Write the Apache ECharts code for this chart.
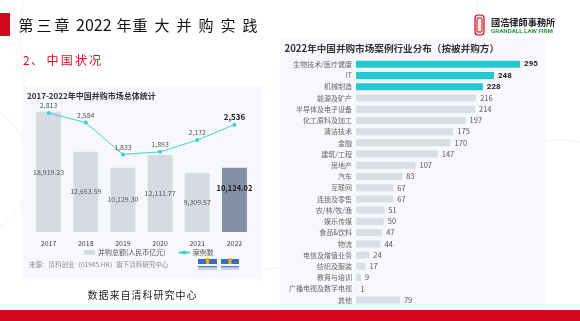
<!DOCTYPE html>
<html><head><meta charset="utf-8">
<script src="https://cdn.jsdelivr.net/npm/echarts@6/dist/echarts.min.js"></script>
<style>html,body{margin:0;padding:0;background:#fff}#c{width:580px;height:321px}</style>
</head><body><div id="c"></div>
<script>
// ---- data ----
const years = ['2017','2018','2019','2020','2021','2022'];
const dealAmount = [18919.23, 12653.59, 10129.30, 12111.77, 9309.57, 10124.02];
const dealCount = [2813, 2584, 1833, 1893, 2172, 2536];
const industries = ['生物技术/医疗健康','IT','机械制造','能源及矿产','半导体及电子设备','化工原料及加工','清洁技术','金融','建筑/工程','房地产','汽车','互联网','连锁及零售','农/林/牧/渔','娱乐传媒','食品&饮料','物流','电信及增值业务','纺织及服装','教育与培训','广播电视及数字电视','其他'];
const industryCases = [295,248,228,216,214,197,175,170,147,107,83,67,67,51,50,47,44,24,17,9,1,79];
const amountName = '并购总额(人民币亿元)';
const countName = '案例数';

const FF = '"Noto Sans CJK SC","Noto Sans",sans-serif';
const chart = echarts.init(document.getElementById('c'), null, {renderer:'canvas'});

function txt(text, x, y, o) {
  o = o || {};
  return {type:'text', z: o.z || 20, style:{text:text, x:x, y:y,
    fill:o.fill||'#222', fontSize:o.size||10, fontFamily:o.family||FF, fontWeight:o.weight||'normal',
    align:o.align||'left', textAlign:o.align||'left', verticalAlign:'middle', textVerticalAlign:'middle'}};
}
function spaced(chars, centers, y, o) {
  return chars.map((c,i)=>txt(c, centers[i], y, Object.assign({align:'center'}, o)));
}
const fmt2 = v => v.toLocaleString('en-US',{minimumFractionDigits:2, maximumFractionDigits:2});
const fmt0 = v => v.toLocaleString('en-US');

const graphics = [];
// faint decorative arcs
graphics.push({type:'circle', z:-20, shape:{cx:250,cy:40,r:230}, style:{fill:'none',stroke:'#f1f1f1',lineWidth:1}});
graphics.push({type:'circle', z:-20, shape:{cx:-40,cy:170,r:70}, style:{fill:'none',stroke:'#f0f0f0',lineWidth:1}});
graphics.push({type:'circle', z:-20, shape:{cx:560,cy:230,r:90}, style:{fill:'none',stroke:'#f2f2f2',lineWidth:1}});
// panels
graphics.push({type:'rect', z:-10, shape:{x:22,y:86,width:240,height:193}, style:{fill:'#f7f8fb'}});
graphics.push({type:'rect', z:-10, shape:{x:280,y:38,width:265,height:272}, style:{fill:'#f7f8fb'}});
// red marker + bottom band
graphics.push({type:'rect', z:5, shape:{x:0,y:13,width:10,height:23}, style:{fill:'#d2091c'}});
graphics.push({type:'rect', z:5, shape:{x:0,y:310,width:580,height:11}, style:{fill:'#d2091c'}});
// main title
graphics.push(...spaced(['第','三','章'], [26,44,62], 25, {size:15, fill:'#111'}));
graphics.push(txt('2022', 76, 25, {size:16, fill:'#111'}));
graphics.push(txt('年', 124, 25, {size:15, fill:'#111', align:'center'}));
graphics.push(...spaced(['重','大','并','购','实','践'], [140,162,184,206,228,250], 25, {size:15, fill:'#111'}));
// subtitle
graphics.push(txt('2', 23, 60, {size:12, fill:'#d9101e'}));
graphics.push(txt('、', 31, 60, {size:12, fill:'#d9101e'}));
graphics.push(...spaced(['中','国','状','况'], [52.5,66.7,80.9,95.1], 60, {size:12, fill:'#d9101e'}));
// caption
graphics.push(...spaced('数据来自清科研究中心'.split(''), Array.from({length:10},(_, i)=>92.5+11*i), 295, {size:10, fill:'#222'}));
// logo
graphics.push({type:'rect', z:5, shape:{x:475,y:15,width:9,height:20,r:3}, style:{fill:'#fbe3e3',stroke:'#d2091c',lineWidth:1.2}});
graphics.push({type:'rect', z:6, shape:{x:477,y:18,width:5,height:14,r:1}, style:{fill:'none',stroke:'#d2091c',lineWidth:1}});
graphics.push(txt('國浩律師事務所', 491, 22.5, {size:9.2, fill:'#222', weight:'bold'}));
graphics.push(txt('GRANDALL LAW FIRM', 491, 31.5, {size:6.2, fill:'#2a9a4a', weight:'bold', family:'Roboto,"Liberation Sans",sans-serif'}));
// panel titles
graphics.push(txt('2017-2022年中国并购市场总体统计', 27, 95.5, {size:8, fill:'#333', weight:'bold'}));
graphics.push(txt('2022年中国并购市场案例行业分布（按被并购方）', 284.5, 48, {size:9.6, fill:'#333', weight:'bold'}));
// source
graphics.push(txt('来源：清科创业（01945.HK）旗下清科研究中心', 29, 265, {size:6.5, fill:'#8a8a8a'}));
[[198,19],[221,18]].forEach(([x,w])=>{
  graphics.push({type:'rect', z:5, shape:{x:x,y:259,width:w,height:5}, style:{fill:'#3c6ac4'}});
  graphics.push({type:'rect', z:6, shape:{x:x+w/2-1.5,y:258,width:3,height:6}, style:{fill:'#f2b600'}});
  graphics.push({type:'rect', z:5, shape:{x:x,y:266,width:w,height:1.5}, style:{fill:'#5a7fc9'}});
  graphics.push({type:'rect', z:5, shape:{x:x,y:268.5,width:w,height:1}, style:{fill:'#9ab0dc'}});
});

const lastIdx = dealAmount.length - 1;
const barData = dealAmount.map((v,i)=> i===lastIdx ? {value:v, itemStyle:{color:'#8391a8'},
  label:{color:'#1a1a1a', fontWeight:'bold', fontSize:7.5, offset:[0,-12]}} : v);
const lineData = dealCount.map((v,i)=> i===lastIdx ? {value:v,
  label:{color:'#1a1a1a', fontWeight:'bold', fontSize:8}} : v);

chart.setOption({
  animation:false,
  textStyle:{fontFamily:FF},
  graphic:{elements:graphics},
  legend:{data:[amountName, {name:countName}], left:79, top:244, itemWidth:11, itemHeight:5, itemGap:12, z:10,
    textStyle:{fontSize:7, color:'#555', fontFamily:FF, padding:[0,0,0,-2]}},
  grid:[
    {left:30, top:105, width:223, height:127},
    {left:356, top:58.7, width:178, height:246.9}
  ],
  xAxis:[
    {type:'category', gridIndex:0, data:years, axisLine:{show:false}, axisTick:{show:false}, z:10,
      axisLabel:{fontSize:7, color:'#444', margin:8}},
    {type:'value', gridIndex:1, min:0, max:320, show:false}
  ],
  yAxis:[
    {type:'value', gridIndex:0, min:0, max:20000, show:false},
    {type:'value', gridIndex:0, min:0, max:3000, show:false},
    {type:'category', gridIndex:1, data:industries, inverse:true, axisLine:{show:false}, axisTick:{show:false}, z:10,
      axisLabel:{fontSize:7, color:'#666', margin:4, interval:0}}
  ],
  series:[
    {name:amountName, type:'bar', xAxisIndex:0, yAxisIndex:0, data:barData, barWidth:25,
      itemStyle:{color:'#d6dbe3'},
      label:{show:true, position:'inside', fontSize:7, color:'#555', formatter:p=>fmt2(p.value)}},
    {name:countName, type:'line', xAxisIndex:0, yAxisIndex:1, data:lineData, symbol:'circle', symbolSize:4,
      lineStyle:{color:'#3dd0d6', width:1}, itemStyle:{color:'#3dd0d6'},
      label:{show:true, position:'top', distance:2, fontSize:7, color:'#555', formatter:p=>fmt0(p.value)}},
    {name:'行业', type:'bar', xAxisIndex:1, yAxisIndex:2, data:industryCases, barWidth:7,
      itemStyle:{color:p=>p.dataIndex<3 ? '#22c9d4' : '#d9dee6'},
      label:{show:true, position:'right', distance:4,
        formatter:p=> p.dataIndex<3 ? '{b|'+p.value+'}' : '{n|'+p.value+'}',
        rich:{b:{fontSize:8, fontWeight:'bold', color:'#222', fontFamily:'Roboto,sans-serif'},
              n:{fontSize:7.5, color:'#555', fontFamily:FF}}}}
  ]
});
</script></body></html>
